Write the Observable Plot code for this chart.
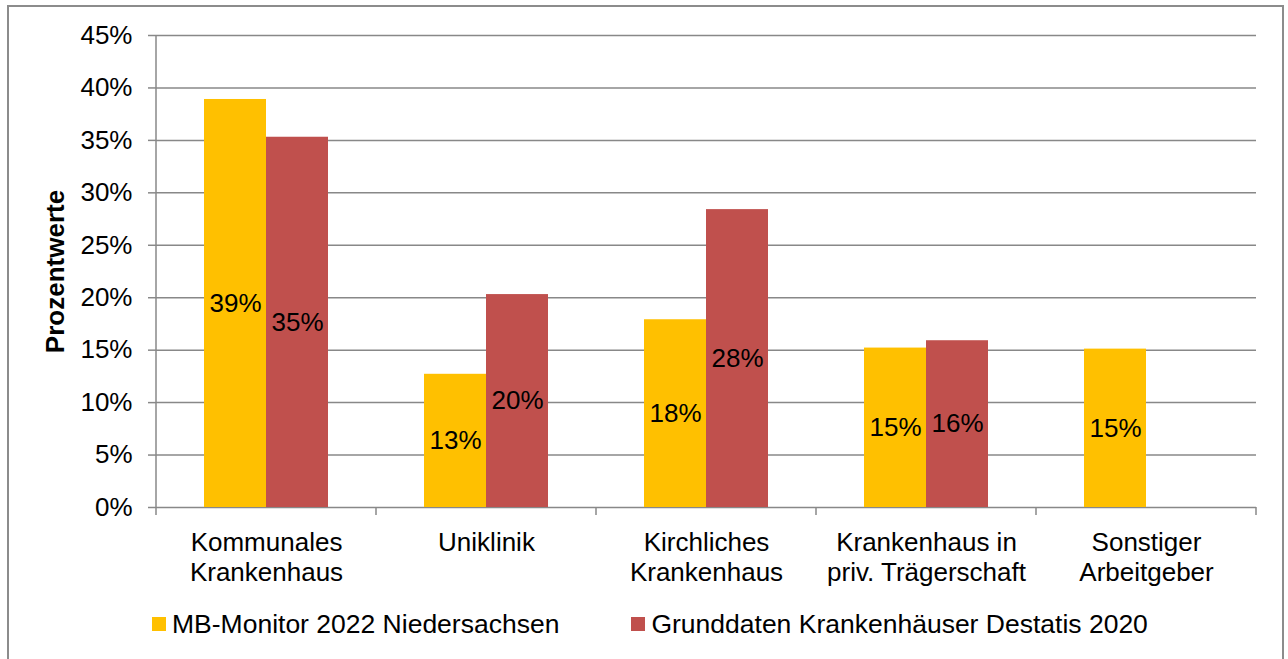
<!DOCTYPE html>
<html>
<head>
<meta charset="utf-8">
<script src="https://cdn.jsdelivr.net/npm/d3@7"></script>
<script src="https://cdn.jsdelivr.net/npm/@observablehq/plot@0.6"></script>
<style>
  html, body { margin: 0; padding: 0; background: #fff; }
  body { width: 1288px; height: 659px; position: relative; overflow: hidden; font-family: "Liberation Sans", Arial, sans-serif; }
  #frame { position: absolute; left: 7px; top: 5px; width: 1277px; height: 700px; border: 2px solid #8c8c8c; box-sizing: border-box; }
  #chart { position: absolute; left: 0; top: 0; }
  #legend { position: absolute; left: 152px; top: 609px; height: 30px; display: flex; align-items: center; gap: 72px; font-size: 26.5px; line-height: 30px; color: #000; }
  #legend .item { display: flex; align-items: center; gap: 6px; }
  #legend .sw { width: 14px; height: 14px; display: inline-block; }
  #chart [aria-label="y-axis label"] text { font-weight: bold; }
</style>
</head>
<body>
<div id="frame"></div>
<div id="chart"></div>
<div id="legend"></div>
<script>
const categories = ["Kommunales\nKrankenhaus", "Uniklinik", "Kirchliches\nKrankenhaus", "Krankenhaus in\npriv. Trägerschaft", "Sonstiger\nArbeitgeber"];
const series = ["MB-Monitor 2022 Niedersachsen", "Grunddaten Krankenhäuser Destatis 2020"];
const mbValues = [38.9, 12.7, 17.9, 15.2, 15.1];
const destatisValues = [35.3, 20.3, 28.4, 15.9, null];
const yTicks = [0, 5, 10, 15, 20, 25, 30, 35, 40, 45];
const colors = ["#FFC000", "#C0504D"];

const data = [];
categories.forEach((c, i) => {
  if (mbValues[i] != null) data.push({category: c, series: series[0], value: mbValues[i]});
  if (destatisValues[i] != null) data.push({category: c, series: series[1], value: destatisValues[i]});
});

const gridColor = "#888888";
const fs = 26;

const chart = Plot.plot({
  width: 1288,
  height: 600,
  marginLeft: 155,
  marginRight: 32,
  marginTop: 35,
  marginBottom: 93,
  style: {fontFamily: "'Liberation Sans', Arial, sans-serif", fontSize: fs + "px", background: "transparent", overflow: "visible", color: "#000"},
  fx: {domain: categories, padding: 0, label: null},
  x: {domain: series, paddingInner: 0, paddingOuter: 0.755, axis: null},
  y: {domain: [0, 45], label: null},
  color: {domain: series, range: colors},
  marks: [
    Plot.ruleY(yTicks, {stroke: gridColor, strokeWidth: 1.5}),
    Plot.barY(data, {fx: "category", x: "series", y: "value", fill: "series"}),
    Plot.text(data, {fx: "category", x: "series", y: d => d.value / 2, text: d => Math.round(d.value) + "%", fill: "#000", fontSize: fs}),
    Plot.axisY(yTicks, {tickSize: 8, tickPadding: 16, stroke: gridColor, strokeWidth: 1.5, fill: "#000", fontSize: fs,
      tickFormat: d => d + "%", label: "Prozentwerte", labelArrow: false, labelAnchor: "center", labelOffset: 111}),
    Plot.axisFx({anchor: "bottom", tickSize: 0, tickPadding: 22, lineHeight: 1.15, fontSize: fs, fill: "#000", label: null})
  ]
});

document.getElementById("chart").appendChild(chart);

// axis line on the left and category boundary ticks along the bottom, from the scales
const fx = chart.scale("fx");
const y = chart.scale("y");
const bounds = categories.map(c => fx.apply(c));
bounds.push(fx.apply(categories[categories.length - 1]) + fx.bandwidth);
const y0 = y.apply(0), yTop = y.apply(yTicks[yTicks.length - 1]);
const g = d3.select(chart).append("g").attr("stroke", gridColor).attr("stroke-width", 1.5);
g.append("line").attr("x1", bounds[0]).attr("x2", bounds[0]).attr("y1", yTop).attr("y2", y0);
g.selectAll("line.b").data(bounds).join("line").attr("class", "b")
  .attr("x1", d => d).attr("x2", d => d).attr("y1", y0).attr("y2", y0 + 8);

const legend = d3.select("#legend");
series.forEach((s, i) => {
  const it = legend.append("div").attr("class", "item");
  it.append("span").attr("class", "sw").style("background", colors[i]);
  it.append("span").text(s);
});
</script>
</body>
</html>
